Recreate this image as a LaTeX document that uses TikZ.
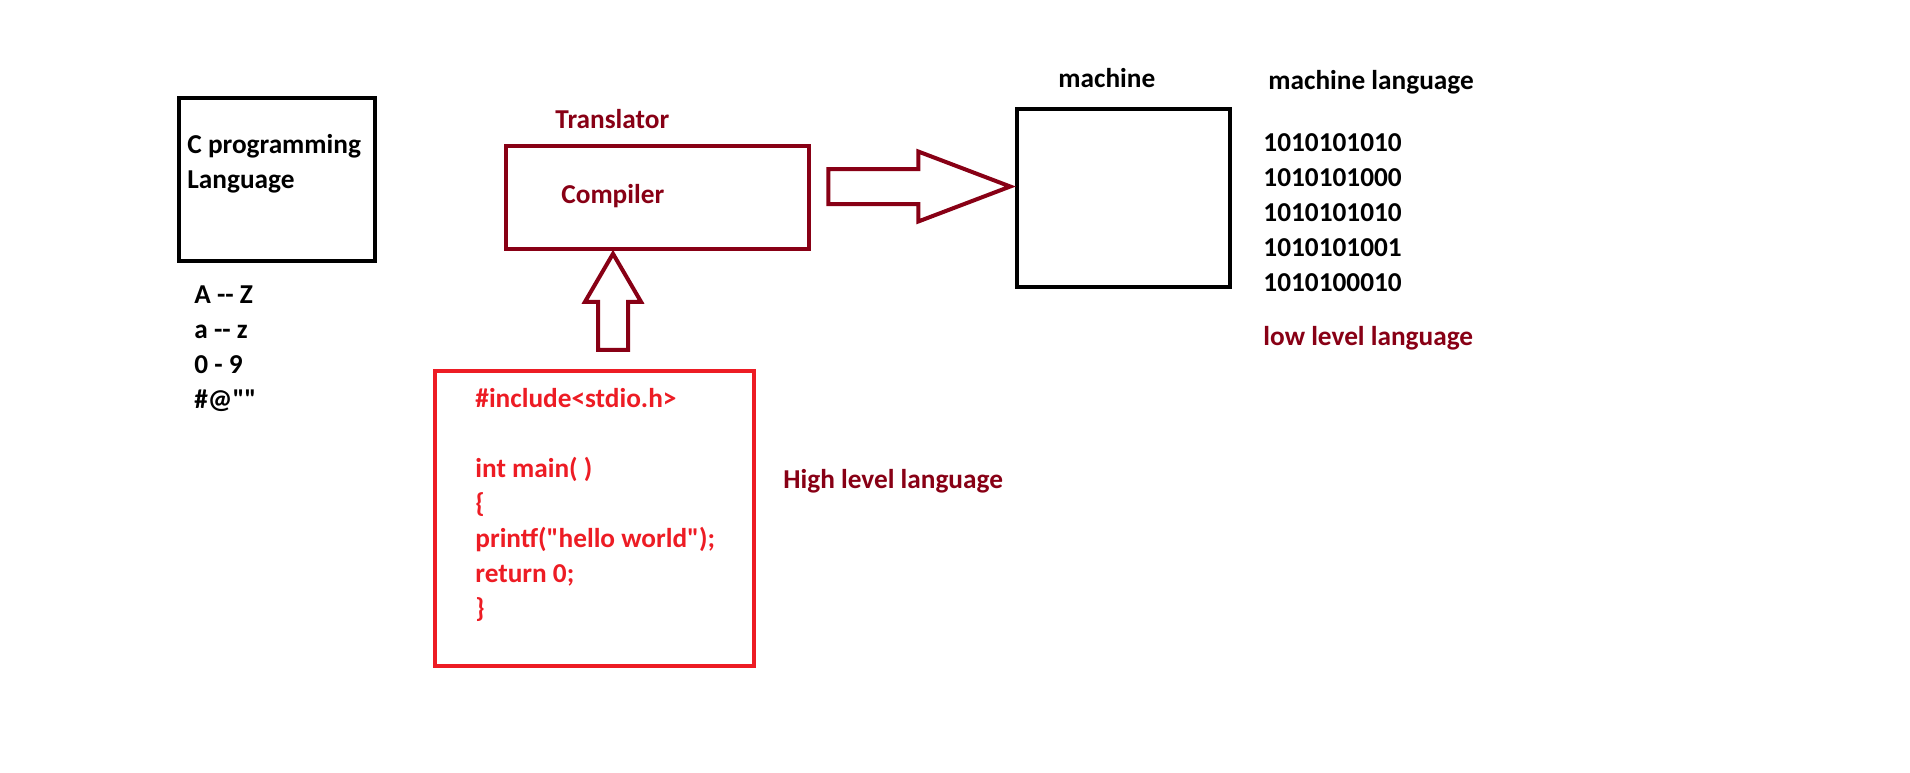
\documentclass[tikz,border=0pt]{standalone}
\usepackage{fontspec}
\setmainfont{Carlito}[Ligatures=TeXOff]
\usetikzlibrary{calc}
\definecolor{cDark}{RGB}{136,0,21}
\definecolor{cRed}{RGB}{237,28,36}
\newcommand{\dd}{-\kern0pt-}
\tikzset{
	boxframe/.style={rectangle, draw=black, line width=2.25pt, inner sep=0pt},
	lbl/.style     ={anchor=base west, inner sep=0pt, align=left, font=\fontsize{13.65}{17.5}\selectfont\bfseries},
	hollow/.style  ={draw=cDark, line width=2pt, fill=white, line join=miter},
}
\begin{document}
\begin{tikzpicture}[x=0.5pt, y=-0.5pt]
	\useasboundingbox (0,0) rectangle (1910,772);
	\node[boxframe, minimum width=98pt, minimum height=81.5pt] (lang) at (277,179.5) {};
	\node[lbl] (langTxt) at (187,188) {C programming\\Language};
	\node[lbl] (chars) at (194,408) {A \dd{} Z\\a \dd{} z\\0 - 9\\\#@""};
	\node[lbl, text=cDark] (trans) at (555,128) {Translator};
	\node[boxframe, draw=cDark, minimum width=151.5pt, minimum height=51.5pt] (comp) at (657.5,197.5) {};
	\node[lbl, text=cDark] (compTxt) at (561,203) {Compiler};
	\node[lbl] (machLbl) at (1058,87) {machine};
	\node[boxframe, minimum width=106.5pt, minimum height=89pt] (mach) at (1123.5,198) {};
	\node[lbl] (mlang) at (1268,89) {machine language};
	\node[lbl] (bits) at (1263,291) {1010101010\\1010101000\\1010101010\\1010101001\\1010100010};
	\node[lbl, text=cDark] (low) at (1263,345) {low level language};
	\node[boxframe, draw=cRed, minimum width=159.5pt, minimum height=147.5pt] (code) at (594.5,518.5) {};
	\node[lbl, text=cRed] (codeTxt) at (475,617) {\#include<stdio.h>\\[17.5pt]int main( )\\\{\\printf("hello world");\\return 0;\\\}};
	\node[lbl, text=cDark] (high) at (783,488) {High level language};
	\coordinate (rTail) at ($(comp.east)+(17,-11)$);
	\coordinate (uTip) at ($(comp.south)+(-44.5,2.5)$);
	\draw[hollow] (rTail) ++(0,-17.5) -- ++(90,0) -- ++(0,-17.5) -- ++(92,35) -- ++(-92,35) -- ++(0,-17.5) -- ++(-90,0) -- cycle;
	\draw[hollow] (uTip) -- ++(28,48) -- ++(-13,0) -- ++(0,48) -- ++(-30,0) -- ++(0,-48) -- ++(-13,0) -- cycle;
\end{tikzpicture}
\end{document}
